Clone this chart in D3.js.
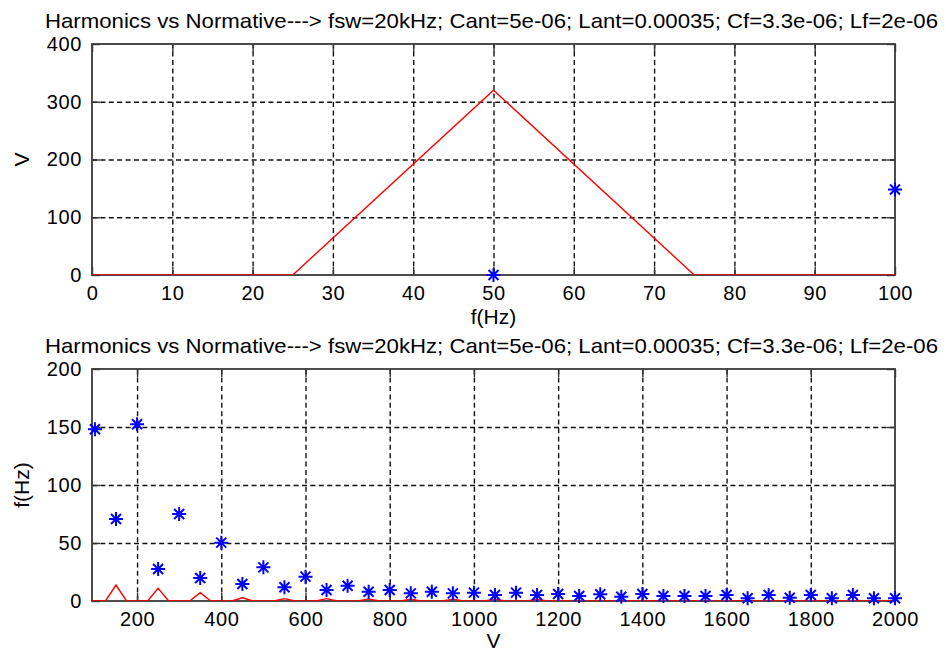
<!DOCTYPE html>
<html>
<head>
<meta charset="utf-8">
<script src="https://cdn.jsdelivr.net/npm/d3@7"></script>
<style>
  body { margin: 0; background: #fff; }
  svg text { font-family: "Liberation Sans", Arial, sans-serif; fill: #000; }
</style>
</head>
<body>
<div id="chart"></div>
<script>
const titleText = "Harmonics vs Normative---> fsw=20kHz; Cant=5e-06; Lant=0.00035; Cf=3.3e-06; Lf=2e-06";

// normative limit (red): peaks at odd harmonics, zero elsewhere, sampled every 25 Hz
const normFreqs = [50, 150, 250, 350, 450, 550, 650, 750, 850, 950, 1050, 1150];
const normValues = [320, 13.8, 10.9, 7.2, 2.8, 2, 2, 1.8, 1.6, 1.6, 1.6, 1.6];
const normStep = 25;
const normMax = 2000;

// measured harmonics (blue stars)
const harmFreqs = [50, 100, 150, 200, 250, 300, 350, 400, 450, 500,
  550, 600, 650, 700, 750, 800, 850, 900, 950, 1000,
  1050, 1100, 1150, 1200, 1250, 1300, 1350, 1400, 1450, 1500,
  1550, 1600, 1650, 1700, 1750, 1800, 1850, 1900, 1950, 2000];
const harmValues = [0, 148, 70.7, 152.3, 27.6, 75, 19.8, 50.3, 14.7, 29,
  11.8, 21, 9.5, 13.2, 8, 9.5, 6.6, 8, 6.6, 7.2,
  5.2, 7.2, 5.2, 6, 4.3, 5.8, 3.7, 6, 4.3, 4.3,
  4.3, 5.2, 2.3, 5.2, 2.8, 5.2, 2.3, 5.2, 2.3, 2.3];

const topXTicks = [0, 10, 20, 30, 40, 50, 60, 70, 80, 90, 100];
const topYTicks = [0, 100, 200, 300, 400];
const botXTicks = [200, 400, 600, 800, 1000, 1200, 1400, 1600, 1800, 2000];
const botYTicks = [0, 50, 100, 150, 200];

const width = 946;
const height = 653;

const svg = d3.select("#chart")
  .append("svg")
  .attr("width", width)
  .attr("height", height)
  .style("background-color", "white");

// red series rebuilt on its 25 Hz sample grid
var normSeries = d3.range(0, normMax + normStep, normStep).map(function (f) {
  var i = normFreqs.indexOf(f);
  return { f: f, v: i >= 0 ? normValues[i] : 0 };
});
var harmSeries = harmFreqs.map((f, i) => ({ f: f, v: harmValues[i] }));

function starPath() {
  const a = 7, b = 5;
  return `M${-a},0L${a},0M0,${-a}L0,${a}M${-b},${-b}L${b},${b}M${-b},${b}L${b},${-b}`;
}

function drawPanel(p) {
  const left = 92, right = 895;
  const x = d3.scaleLinear().domain(p.xDomain).range([left, right]);
  const y = d3.scaleLinear().domain(p.yDomain).range([p.bottom, p.top]);
  const h = p.bottom - p.top;
  const w = right - left;
  const g = svg.append("g").attr("id", p.id);

  g.append("clipPath")
    .attr("id", p.id + "_clip")
    .append("rect")
    .attr("x", left)
    .attr("y", p.top)
    .attr("width", w)
    .attr("height", h);

  // dashed grid, interior ticks only
  const xIn = p.xTicks.filter((t) => x(t) > left + 1 && x(t) < right - 1);
  const yIn = p.yTicks.filter((t) => y(t) > p.top + 1 && y(t) < p.bottom - 1);
  g.append("g")
    .attr("class", "grid")
    .attr("transform", `translate(0,${p.bottom})`)
    .call(d3.axisBottom(x).tickValues(xIn).tickSize(-h).tickFormat("").tickSizeOuter(0));
  g.append("g")
    .attr("class", "grid")
    .attr("transform", `translate(${left},0)`)
    .call(d3.axisLeft(y).tickValues(yIn).tickSize(-w).tickFormat("").tickSizeOuter(0));
  g.selectAll(".grid .domain").remove();
  g.selectAll(".grid line")
    .attr("stroke", "#111")
    .attr("stroke-width", 1.4)
    .attr("stroke-dasharray", "5,3.4");

  // ticks inside on all four sides
  const fmt = d3.format("d");
  const axes = [
    [d3.axisBottom(x).tickValues(p.xTicks).tickFormat(fmt), `translate(0,${p.bottom})`, true],
    [d3.axisTop(x).tickValues(p.xTicks).tickFormat(""), `translate(0,${p.top})`, false],
    [d3.axisLeft(y).tickValues(p.yTicks).tickFormat(fmt), `translate(${left},0)`, true],
    [d3.axisRight(y).tickValues(p.yTicks).tickFormat(""), `translate(${right},0)`, false],
  ];
  axes.forEach(function (a, i) {
    const ax = g.append("g")
      .attr("class", "axis")
      .attr("transform", a[1])
      .call(a[0].tickSize(-8).tickSizeOuter(0).tickPadding(i < 2 ? 10.3 : 10));
    ax.select(".domain").remove();
    ax.selectAll("line").attr("stroke", "#333").attr("stroke-width", 1.4);
    ax.selectAll("text")
      .style("font-size", "20px")
      .style("letter-spacing", "0.6px")
      .attr("fill", "#000");
  });

  g.append("rect")
    .attr("x", left)
    .attr("y", p.top)
    .attr("width", w)
    .attr("height", h)
    .attr("fill", "none")
    .attr("stroke", "#3a3a3a")
    .attr("stroke-width", 1.8);

  // red normative line
  const line = d3.line().x((d) => x(d.f)).y((d) => y(d.v));
  g.append("path")
    .datum(normSeries)
    .attr("clip-path", `url(#${p.id}_clip)`)
    .attr("d", line)
    .attr("fill", "none")
    .attr("stroke", "#ff0000")
    .attr("stroke-width", 1.4);

  // blue star markers (not clipped, like MATLAB markers)
  g.selectAll(".star")
    .data(harmSeries.filter((d) => d.f >= p.xDomain[0] && d.f <= p.xDomain[1]))
    .enter()
    .append("path")
    .attr("class", "star")
    .attr("transform", (d) => `translate(${x(d.f)},${y(d.v)})`)
    .attr("d", starPath)
    .attr("fill", "none")
    .attr("stroke", "#0000ff")
    .attr("stroke-width", 2);

  // title and labels
  g.append("text")
    .attr("x", 491.5)
    .attr("y", p.top - 16)
    .attr("text-anchor", "middle")
    .attr("textLength", 893)
    .attr("lengthAdjust", "spacingAndGlyphs")
    .style("font-size", "21px")
    .text(titleText);

  g.append("text")
    .attr("x", (left + right) / 2)
    .attr("y", p.bottom + p.xLabelDy)
    .attr("text-anchor", "middle")
    .style("font-size", "21px")
    .text(p.xLabel);

  g.append("text")
    .attr("transform", `translate(29,${(p.top + p.bottom) / 2}) rotate(-90)`)
    .attr("text-anchor", "middle")
    .style("font-size", "21px")
    .text(p.yLabel);
}

drawPanel({
  id: "top",
  top: 44,
  bottom: 275,
  xDomain: [0, 100],
  yDomain: [0, 400],
  xTicks: topXTicks,
  yTicks: topYTicks,
  xLabel: "f(Hz)",
  yLabel: "V",
  xLabelDy: 49,
});

drawPanel({
  id: "bottom",
  top: 369,
  bottom: 601,
  xDomain: [93, 2000],
  yDomain: [0, 200],
  xTicks: botXTicks,
  yTicks: botYTicks,
  xLabel: "V",
  yLabel: "f(Hz)",
  xLabelDy: 47,
});
</script>
</body>
</html>
